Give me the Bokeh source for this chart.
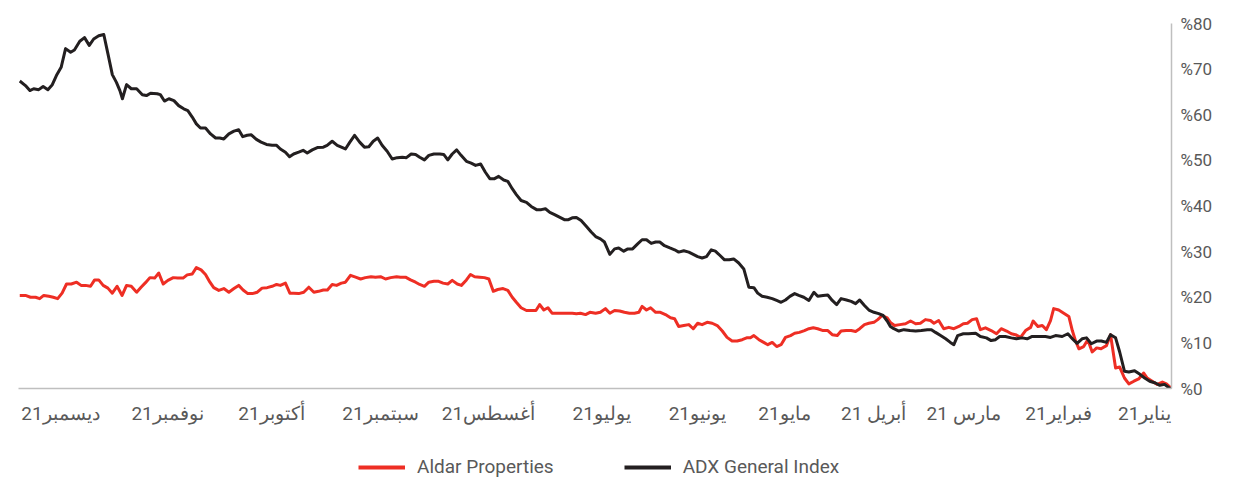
from bokeh.plotting import figure
from bokeh.layouts import column
from bokeh.models import Range1d, FixedTicker, Legend, LegendItem, ColumnDataSource
from bokeh.embed import file_html
from bokeh.resources import INLINE

# x: days since 1 Jan 2021 ; y: % change
adx_day = [0, 0.5, 2.2, 3.7, 5.1, 6.9, 8.5, 10.0, 11.7, 13.5, 14.9, 16.4, 17.7, 19.3, 20.6, 22.2, 23.7, 25.4, 26.9, 28.3,
           29.9, 31.4, 32.8, 34.6, 36.7, 38.3, 39.9, 42.1, 44.1, 45.7, 47.3, 49.1, 50.7, 52.6, 54.4, 55.7, 57.1, 58.6, 60.5,
           62.0, 64.3, 65.9, 67.7, 68.9, 70.0, 71.5, 73.1, 74.7, 76.0, 77.3, 79.2, 81.0, 82.8, 84.7, 86.3, 87.9, 89.0, 90.0,
           91.3, 92.7, 94.2, 95.8, 97.2, 98.7, 100.0, 101.4, 102.9, 104.6, 106.0, 107.4, 108.8, 110.3, 112.0, 113.2, 114.8,
           116.4, 118.0, 119.3, 120.8, 122.2, 123.6, 125.0, 126.4, 128.0, 129.6, 131.0, 132.2, 133.8, 135.4, 137.0, 138.6,
           140.0, 141.5, 143.0, 144.4, 145.7, 147.2, 148.6, 150.0, 151.4, 152.8, 154.4, 156.0, 157.3, 158.8, 160.5, 162.0,
           163.3, 164.7, 166.2, 167.6, 169.0, 170.6, 172.1, 173.4, 175.0, 176.3, 177.8, 179.5, 180.8, 182.3, 183.7, 185.2,
           186.9, 188.4, 189.7, 190.9, 192.2, 193.6, 195.3, 196.8, 198.2, 199.5, 201.0, 202.7, 204.2, 205.9, 207.4, 208.7,
           210.1, 211.4, 213.0, 214.3, 215.8, 217.2, 218.7, 220.3, 221.7, 223.2, 224.9, 226.3, 227.7, 229.1, 230.4, 231.6,
           233.5, 235.1, 236.5, 238.0, 239.3, 240.7, 242.2, 243.5, 245.1, 246.7, 248.3, 249.9, 251.3, 252.7, 254.1, 255.5,
           257.0, 258.6, 260.1, 261.5, 264.1, 265.7, 267.3, 268.5, 270.4, 272.0, 273.6, 274.9, 276.3, 277.9, 279.2, 280.5,
           282.1, 283.3, 284.7, 286.5, 288.2, 289.7, 291.3, 292.6, 294.0, 295.3, 296.8, 298.4, 300.0, 301.3, 302.6, 304.2,
           305.8, 307.4, 308.7, 310.0, 311.4, 312.7, 314.3, 315.8, 317.4, 318.8, 320.1, 321.1, 323.2, 324.5, 325.8, 327.6,
           329.3, 330.8, 332.1, 332.9, 334.0, 335.3, 336.7, 338.0, 339.6, 341.2, 342.6, 344.1, 345.6, 347.3, 348.5, 350.1,
           351.5, 353.0, 354.3, 355.7, 357.2, 358.6, 360.2, 361.4, 362.8, 364.6]
adx_pct = [0.0, 0.0, 0.9, 0.7, 1.2, 1.6, 2.3, 3.1, 3.9, 3.6, 3.8, 8.0, 11.1, 11.8, 10.1, 10.4, 10.4, 9.8, 11.1, 10.9,
           9.9, 10.9, 12.0, 11.4, 11.6, 11.2, 11.4, 11.4, 11.4, 10.9, 11.1, 10.9, 11.1, 11.4, 11.4, 10.7, 10.5, 11.1, 11.4,
           12.1, 12.0, 12.0, 11.6, 9.6, 10.1, 10.9, 11.6, 12.3, 12.9, 12.9, 12.7, 12.6, 12.7, 12.9, 12.6, 13.1, 13.6, 14.8,
           16.0, 16.4, 16.7, 17.2, 18.2, 19.4, 18.6, 19.1, 19.4, 19.7, 18.4, 19.3, 20.5, 20.4, 20.2, 21.1, 19.3,
           20.0, 20.4, 20.8, 20.2, 19.4, 18.9, 19.3, 19.7, 20.0, 20.2, 20.9, 22.1, 22.2, 26.2, 27.5, 28.4,
           28.2, 28.2, 29.2, 30.1, 30.4, 28.9, 28.6, 28.9, 29.4, 29.9, 30.2, 29.9, 30.4, 30.8, 31.3, 32.1,
           32.1, 31.8, 32.6, 32.6, 31.7, 30.6, 30.6, 30.1, 30.8, 30.6, 29.4, 32.1, 32.8, 33.3, 34.3, 35.5,
           36.8, 37.5, 37.4, 37.0, 37.0, 37.5, 38.1, 38.6, 39.4, 39.2, 39.2, 39.9, 40.8, 41.2, 42.5, 43.8,
           45.4, 45.7, 46.5, 46.0, 46.0, 47.4, 49.2, 48.9, 49.4, 49.8, 51.1, 52.3, 51.4, 50.1, 51.3, 51.4,
           51.4, 51.1, 50.1, 50.7, 51.3, 51.4, 50.6, 50.7, 50.6, 50.3, 52.0, 53.3, 54.9, 54.2, 53.0, 52.9,
           54.0, 55.5, 54.0, 52.5, 53.3, 54.2, 53.3, 52.9, 52.8, 52.3, 51.6, 52.2, 51.8, 51.4, 50.8, 51.8,
           52.5, 53.3, 53.3, 53.5, 54.0, 54.6, 55.6, 55.5, 55.2, 56.7, 56.4, 55.8, 54.7, 54.9, 54.9, 55.8,
           57.1, 57.1, 58.0, 59.5, 60.9, 61.3, 62.0, 63.1, 63.5, 63.0, 64.4, 64.6, 64.7, 64.2, 64.4, 65.7,
           65.7, 66.6, 63.5, 65.3, 67.1, 68.8, 73.4, 77.6, 77.3, 76.6, 75.2, 76.9, 76.1, 74.2, 73.7, 74.5,
           70.4, 68.6, 66.6, 65.5, 66.2, 65.5, 65.7, 65.3, 66.4, 67.4]

aldar_day = [0, 0.3, 1.6, 2.9, 4.5, 6.1, 7.7, 8.8, 10.4, 11.9, 13.5, 14.9, 16.4, 17.7, 19.3, 20.6, 22.3, 23.7, 25.1, 26.5,
             27.8, 29.3, 30.4, 31.4, 32.5, 34.1, 35.7, 37.3, 38.3, 39.6, 40.9, 42.3, 43.8, 44.6, 46.2, 47.8, 49.4, 50.7,
             52.2, 53.9, 55.4, 57.1, 58.9, 60.5, 61.7, 63.1, 64.6, 65.9, 67.3, 68.9, 70.5, 72.1, 73.7, 75.2, 76.3, 77.9,
             79.5, 81.0, 82.6, 84.2, 86.0, 87.7, 89.0, 90.0, 91.6, 93.0, 94.2, 95.8, 97.2, 98.7, 100.0, 101.4, 103.0,
             104.6, 105.8, 107.4, 108.8, 110.3, 112.0, 113.4, 114.8, 116.2, 117.8, 119.3, 120.6, 122.2, 123.6, 125.0,
             126.4, 127.8, 129.1, 130.6, 132.2, 133.3, 134.5, 135.9, 137.5, 139.1, 140.7, 142.2, 143.8, 145.4, 147.0,
             148.6, 150.0, 151.4, 152.8, 154.4, 156.0, 157.3, 158.6, 160.2, 161.8, 163.3, 164.9, 166.2, 167.6, 168.6,
             170.0, 171.6, 173.2, 174.7, 176.3, 177.8, 179.2, 180.8, 182.3, 184.1, 185.5, 187.1, 188.4, 189.7, 191.3,
             192.9, 194.5, 196.1, 197.4, 198.7, 200.0, 201.2, 202.7, 204.2, 205.9, 207.4, 208.7, 210.1, 211.6, 213.3,
             214.7, 216.1, 217.5, 219.0, 220.6, 221.9, 223.2, 224.8, 226.1, 227.7, 229.1, 230.6, 232.0, 233.5, 235.1,
             236.5, 238.0, 239.3, 240.9, 242.5, 244.1, 245.3, 247.2, 248.8, 250.4, 252.0, 253.4, 255.2, 256.7, 258.3,
             259.9, 261.5, 262.8, 264.3, 265.7, 267.2, 268.5, 270.0, 271.5, 273.1, 274.7, 276.3, 277.9, 279.1, 280.5,
             282.1, 283.3, 284.7, 286.3, 287.9, 289.4, 291.0, 292.4, 293.9, 295.3, 296.8, 298.4, 300.0, 301.6, 303.2,
             304.4, 305.8, 307.2, 308.7, 310.0, 311.6, 312.9, 314.6, 316.0, 317.7, 319.2, 320.6, 321.9, 323.4, 324.8,
             326.2, 327.6, 329.3, 330.8, 332.2, 333.8, 335.3, 336.7, 338.2, 339.6, 340.9, 342.2, 343.8, 345.2, 346.6,
             348.3, 349.8, 351.2, 352.6, 354.0, 355.4, 357.0, 358.3, 359.6, 361.2, 362.8, 364.6]
aldar_pct = [0.0, 0.2, 1.0, 1.4, 0.9, 1.6, 2.3, 3.4, 2.1, 1.6, 1.0, 2.3, 4.7, 4.5, 11.8, 9.4, 8.7, 8.9, 8.0, 10.7,
             9.2, 8.7, 10.5, 12.7, 15.8, 16.5, 17.2, 17.5, 14.9, 12.9, 13.8, 13.6, 14.8, 13.4, 12.7, 11.2, 11.8, 12.0,
             12.6, 13.1, 12.0, 12.7, 13.3, 12.9, 15.3, 15.1, 14.3, 14.2, 13.6, 13.1, 13.4, 13.1, 14.9, 14.3, 14.9, 15.1,
             14.3, 14.2, 14.8, 14.2, 14.0, 13.8, 14.5, 15.5, 16.0, 15.1, 14.5, 14.3, 14.0, 13.1, 12.5, 12.7, 12.7,
             12.6, 11.6, 11.8, 12.7, 12.7, 13.1, 13.3, 13.1, 12.7, 12.3, 12.1, 11.6, 11.2, 9.6, 9.2,
             10.1, 9.6, 10.1, 10.7, 11.6, 11.1, 11.1, 10.7, 10.4, 10.4, 11.2, 12.6, 13.8, 14.3, 14.5,
             14.0, 14.3, 13.1, 14.0, 13.8, 13.6, 15.3, 15.5, 16.2, 16.7, 16.7, 17.7, 17.2, 18.0, 16.7,
             16.5, 16.5, 16.7, 17.0, 17.1, 16.5, 17.5, 16.7, 16.5, 16.7, 16.2, 16.5, 16.4, 16.5, 16.5,
             16.5, 16.5, 16.5, 17.7, 17.2, 18.4, 17.1, 17.1, 17.1, 17.7, 18.9, 20.0, 21.5, 21.9, 21.7,
             21.3, 24.0, 24.3, 24.4, 24.5, 25.0, 23.8, 22.6, 22.9, 23.7, 22.9, 23.1, 23.5, 23.5, 23.3,
             22.4, 22.8, 23.3, 23.8, 24.4, 24.4, 24.5, 24.3, 24.0, 24.5, 24.4, 24.5, 24.3, 24.0, 24.4,
             24.8, 23.3, 23.1, 22.6, 22.8, 21.6, 21.6, 21.3, 21.1, 22.2, 21.1, 20.8, 20.9, 20.9, 23.1,
             22.6, 22.8, 22.4, 22.1, 22.0, 21.1, 20.8, 20.8, 21.6, 22.6, 21.9, 21.1, 21.9, 21.5, 22.1,
             23.3, 25.0, 26.0, 26.5, 25.1, 24.9, 24.2, 24.2, 24.3, 23.7, 22.9, 25.3, 24.2, 24.3, 23.2,
             22.2, 21.1, 22.4, 22.6, 20.4, 22.4, 20.9, 22.0, 22.6, 23.8, 23.8, 22.4, 22.6, 22.6, 23.3,
             22.9, 22.9, 20.9, 19.7, 20.0, 20.2, 20.4, 19.7, 20.0, 20.0, 20.4, 20.4]

month_labels = ["يناير21", "فبراير21", "مارس 21", "أبريل 21", "مايو21", "يونيو21",
                "يوليو21", "أغسطس21", "سبتمبر21", "أكتوبر21", "نوفمبر21", "ديسمبر21"]
month_label_days = [8.5, 35.8, 65.8, 94.3, 122.5, 150.1, 180.4, 216.2, 250.4, 284.9, 317.8, 351.7]

y_ticks = [0, 10, 20, 30, 40, 50, 60, 70, 80]
y_labels = ["%0", "%10", "%20", "%30", "%40", "%50", "%60", "%70", "%80"]

series_names = ["Aldar Properties", "ADX General Index"]
RED = "#EE2E24"
BLACK = "#231F20"
TEXT = "#595959"
AXIS = "#BFBFBF"
FONT = "Roboto"

p = figure(width=1225, height=440, x_range=Range1d(365, 0), y_range=Range1d(0, 80),
           output_backend="svg", toolbar_location=None, y_axis_location="right",
           min_border_left=18, min_border_top=23, min_border_right=54, min_border_bottom=52)
p.outline_line_color = None
p.xgrid.visible = False
p.ygrid.visible = False

src_a = ColumnDataSource(dict(x=aldar_day, y=aldar_pct))
src_b = ColumnDataSource(dict(x=adx_day, y=adx_pct))
p.line("x", "y", source=src_a, line_color=RED, line_width=3, line_join="round")
p.line("x", "y", source=src_b, line_color=BLACK, line_width=3, line_join="round")

xa = p.xaxis[0]
xa.ticker = FixedTicker(ticks=month_label_days)
xa.major_label_overrides = {d: lab for d, lab in zip(month_label_days, month_labels)}
ya = p.yaxis[0]
ya.ticker = FixedTicker(ticks=y_ticks)
ya.major_label_overrides = {t: lab for t, lab in zip(y_ticks, y_labels)}

for ax in (xa, ya):
    ax.axis_line_color = AXIS
    ax.axis_line_width = 1.5
    ax.major_tick_line_color = None
    ax.minor_tick_line_color = None
    ax.major_label_text_color = TEXT
    ax.major_label_text_font = FONT
    ax.major_label_text_font_size = "17px"
xa.major_label_text_font_size = "19px"
xa.major_label_standoff = 7
ya.major_label_standoff = 3

# legend strip below the chart (its sample lines lie outside the visible range)
q = figure(width=1225, height=40, x_range=Range1d(0, 1), y_range=Range1d(0, 1),
           output_backend="svg", toolbar_location=None,
           x_axis_location=None, y_axis_location=None, min_border=0)
q.outline_line_color = None
q.xgrid.visible = False
q.ygrid.visible = False
la = q.line(x=[5, 6], y=[5, 6], line_color=RED, line_width=4)
lb = q.line(x=[5, 6], y=[5, 6], line_color=BLACK, line_width=4)

legend = Legend(items=[LegendItem(label=series_names[0], renderers=[la]),
                       LegendItem(label=series_names[1], renderers=[lb])],
                orientation="horizontal", location=(340, 2))
legend.border_line_color = None
legend.background_fill_alpha = 0
legend.padding = 0
legend.margin = 0
legend.spacing = 70
legend.glyph_width = 47
legend.label_standoff = 12
legend.label_text_font = FONT
legend.label_text_font_size = "19px"
legend.label_text_color = TEXT
q.add_layout(legend)

open("out.html", "w").write(file_html(column(p, q), INLINE))
